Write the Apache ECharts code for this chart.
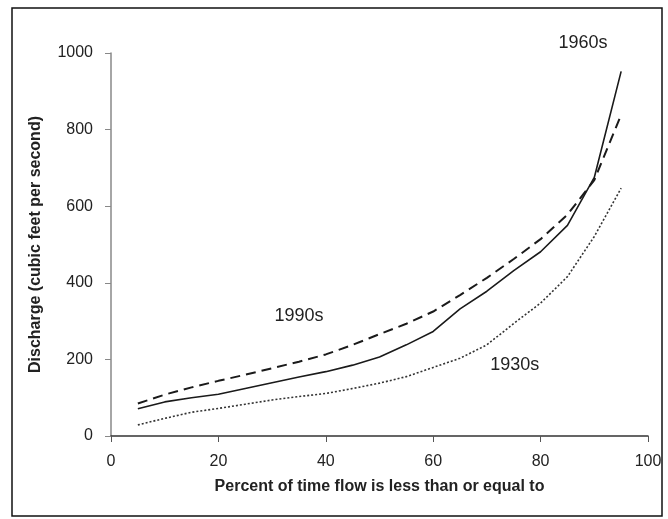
<!DOCTYPE html>
<html>
<head>
<meta charset="utf-8">
<script src="https://cdn.jsdelivr.net/npm/echarts@6/dist/echarts.min.js"></script>
<style>
  html, body { margin: 0; padding: 0; background: #fff; }
  #main { width: 668px; height: 519px; }
</style>
</head>
<body>
<div id="main"></div>
<script>
// percent of time flow is less than or equal to
const percents = [5, 10, 15, 20, 25, 30, 35, 40, 45, 50, 55, 60, 65, 70, 75, 80, 85, 90, 95];
// discharge, cubic feet per second
const flow1960s = [71, 89, 100, 109, 124, 139, 154, 168, 185, 206, 238, 273, 332, 378, 432, 481, 550, 675, 952];
const flow1990s = [85, 108, 127, 144, 160, 177, 194, 213, 238, 266, 293, 325, 368, 413, 462, 514, 578, 668, 839];
const flow1930s = [29, 46, 62, 72, 83, 94, 103, 111, 124, 138, 155, 179, 203, 238, 294, 347, 416, 521, 647];
const xTicks = [0, 20, 40, 60, 80, 100];
const yTicks = [0, 200, 400, 600, 800, 1000];

const pairs = (ys) => percents.map((p, i) => [p, ys[i]]);

const chart = echarts.init(document.getElementById('main'), null, { renderer: 'canvas' });

const FONT = 'Liberation Sans, Arial, sans-serif';

// curve name written next to its line; pos is either a data coord or pixel x/y
function tag(text, pos) {
  return {
    symbol: 'circle',
    symbolSize: 0,
    silent: true,
    data: [Object.assign({ value: text }, pos)],
    label: {
      show: true, position: 'inside', formatter: text,
      fontFamily: FONT, fontSize: 18, color: '#222'
    }
  };
}

const option = {
  backgroundColor: '#fff',
  animation: false,
  grid: { left: 111, right: 20, top: 53, bottom: 83 },
  graphic: [{
    type: 'rect',
    shape: { x: 12, y: 8, width: 650, height: 508 },
    style: { fill: 'none', stroke: '#111', lineWidth: 1.5 },
    silent: true
  }],
  xAxis: {
    type: 'value',
    min: 0,
    max: 100,
    interval: 20,
    name: 'Percent of time flow is less than or equal to',
    nameLocation: 'middle',
    nameGap: 43,
    nameTextStyle: { fontFamily: FONT, fontSize: 16, fontWeight: 'bold', color: '#222' },
    axisLine: { show: true, lineStyle: { color: '#333', width: 1.5 } },
    axisTick: { show: true, length: 6, lineStyle: { color: '#555' } },
    axisLabel: {
      margin: 18,
      fontFamily: FONT,
      fontSize: 16,
      color: '#222',
      formatter: (v) => xTicks.includes(v) ? String(v) : ''
    },
    splitLine: { show: false }
  },
  yAxis: {
    type: 'value',
    min: 0,
    max: 1000,
    interval: 200,
    name: 'Discharge (cubic feet per second)',
    nameLocation: 'middle',
    nameGap: 67,
    nameTextStyle: { fontFamily: FONT, fontSize: 16, fontWeight: 'bold', color: '#222' },
    axisLine: { show: true, lineStyle: { color: '#888', width: 1.5 } },
    axisTick: { show: true, length: 6, lineStyle: { color: '#888' } },
    axisLabel: {
      margin: 18,
      fontFamily: FONT,
      fontSize: 16,
      color: '#222',
      formatter: (v) => yTicks.includes(v) ? String(v) : ''
    },
    splitLine: { show: false }
  },
  series: [
    {
      name: '1960s',
      type: 'line',
      data: pairs(flow1960s),
      symbol: 'none',
      lineStyle: { color: '#1a1a1a', width: 1.6, type: 'solid' },
      markPoint: tag('1960s', { x: 583, y: 43 })
    },
    {
      name: '1990s',
      type: 'line',
      data: pairs(flow1990s),
      symbol: 'none',
      lineStyle: { color: '#1a1a1a', width: 2, type: [10, 6] },
      markPoint: tag('1990s', { coord: [35.0, 312] })
    },
    {
      name: '1930s',
      type: 'line',
      data: pairs(flow1930s),
      symbol: 'none',
      lineStyle: { color: '#333', width: 1.6, type: [2, 2] },
      markPoint: tag('1930s', { coord: [75.2, 185] })
    }
  ]
};

chart.setOption(option);
</script>
</body>
</html>
